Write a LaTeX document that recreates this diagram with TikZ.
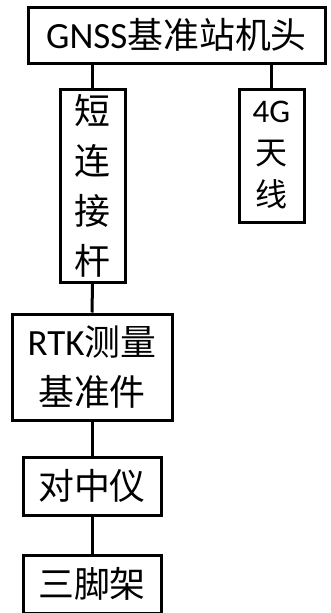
\documentclass[tikz,border=0pt]{standalone}
\usepackage{fontspec}
\setmainfont{Carlito}
\newfontfamily\cjk{Noto Sans CJK SC}[Scale=0.97]
\begin{document}
\begin{tikzpicture}[x=1pt,y=-1pt,
  box/.style={draw,line width=3pt,inner sep=0pt,align=center,font=\fontsize{37}{50}\selectfont},
  conn/.style={line width=3pt}]
\useasboundingbox (0,0) rectangle (331,613);
\node[box,minimum width=297pt,minimum height=56pt] (top) at (176.5,35) {GNSS{\cjk 基准站机头}};
\node[box,minimum width=65pt,minimum height=193pt] (rod) at (92.5,186) {\cjk 短\\\cjk 连\\\cjk 接\\\cjk 杆};
\node[box,minimum width=65pt,minimum height=133pt,font=\fontsize{33}{42}\selectfont] (ant) at (271.5,155.5) {4G\\\cjk 天\\\cjk 线};
\node[box,minimum width=160pt,minimum height=106pt] (rtk) at (92,367) {RTK{\cjk 测量}\\\cjk 基准件};
\node[box,minimum width=138pt,minimum height=58pt] (dz) at (92,486) {\cjk 对中仪};
\node[box,minimum width=138pt,minimum height=58pt] (sj) at (92,584) {\cjk 三脚架};
\draw[conn] (rod.north) -- (rod.north |- top.south);
\draw[conn] (ant.north) -- (ant.north |- top.south);
\draw[conn] (rod.south) -- (rtk.north);
\draw[conn] (rtk.south) -- (dz.north);
\draw[conn] (dz.south) -- (sj.north);
\end{tikzpicture}
\end{document}
